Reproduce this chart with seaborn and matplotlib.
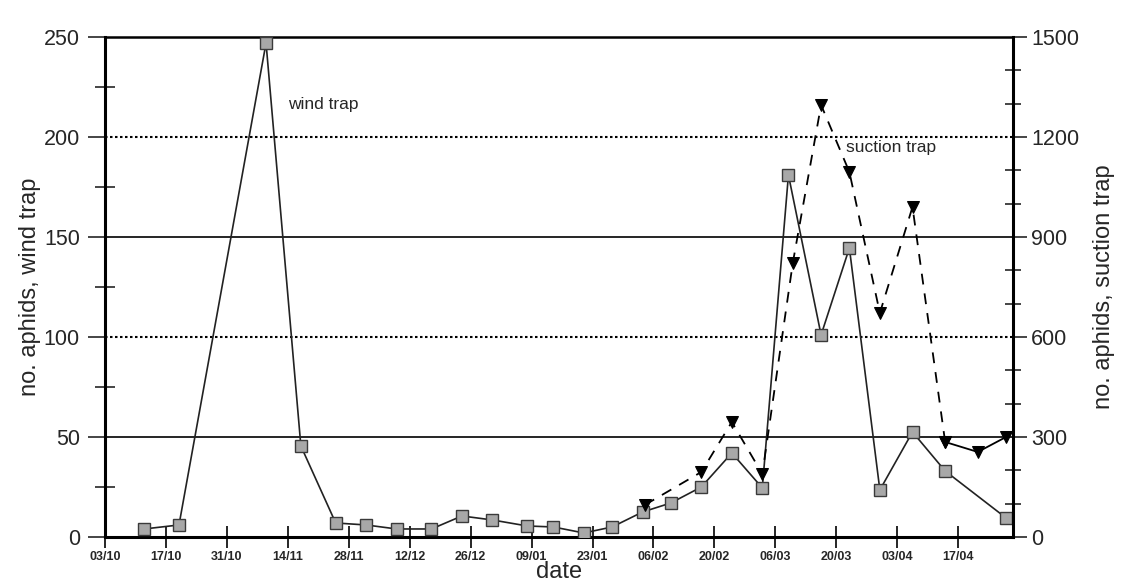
import matplotlib
matplotlib.use("Agg")
import matplotlib.pyplot as plt
import seaborn as sns
import pandas as pd

# ---- data (days counted from 03/10) ----
tick_days = [0, 14, 28, 42, 56, 70, 84, 98, 112, 126, 140, 154, 168, 182, 196]
tick_labels = ['03/10', '17/10', '31/10', '14/11', '28/11', '12/12', '26/12', '09/01',
               '23/01', '06/02', '20/02', '06/03', '20/03', '03/04', '17/04']

wind_days = [9, 17, 37, 45, 53, 60, 67, 75, 82, 89, 97, 103, 110, 116.5, 123.5, 130,
             137, 144, 151, 157, 164.5, 171, 178, 185.5, 193, 207]
wind_counts = [4, 6, 247, 45.5, 7, 6, 4, 4, 10.5, 8.5, 5.5, 5, 2, 5, 12.5, 17,
               25, 42, 24.5, 181, 101, 144.5, 23.5, 52.5, 33, 9.5]

suction_days = [124, 137, 144, 151, 158, 164.5, 171, 178, 185.5, 193, 200.5, 207]
suction_counts = [96, 195, 345, 189, 822, 1296, 1095, 672, 990, 285, 255, 300]

left_ticks = [0, 50, 100, 150, 200, 250]
left_minor = [25, 75, 125, 175, 225]
right_ticks = [0, 300, 600, 900, 1200, 1500]
right_minor = [100, 200, 400, 500, 700, 800, 1000, 1100, 1300, 1400]

sns.set_style("white")
plt.rcParams['font.family'] = ['Liberation Sans', 'DejaVu Sans']

fig = plt.figure(figsize=(11.24, 5.85), dpi=100)
ax = fig.add_axes([0.0934, 0.0821, 0.8079, 0.8547])
ax2 = ax.twinx()

wind = pd.DataFrame({'day': wind_days, 'count': wind_counts})
suction = pd.DataFrame({'day': suction_days, 'count': suction_counts})

sns.lineplot(data=wind, x='day', y='count', ax=ax, color='#222222', lw=1.2,
             marker='s', markersize=8, markerfacecolor='#a8a8a8',
             markeredgecolor='#3a3a3a', markeredgewidth=1.0, errorbar=None, zorder=5)

sns.lineplot(data=suction.iloc[:10], x='day', y='count', ax=ax2, color='black', lw=1.3,
             linestyle=(0, (6, 5)), marker='v', markersize=9, markerfacecolor='black',
             markeredgecolor='black', errorbar=None, zorder=5)
sns.lineplot(data=suction.iloc[9:], x='day', y='count', ax=ax2, color='black', lw=1.3,
             linestyle='-', marker='v', markersize=9, markerfacecolor='black',
             markeredgecolor='black', errorbar=None, zorder=5)

# limits
ax.set_xlim(0, 208.6)
ax.set_ylim(0, 250)
ax2.set_ylim(0, 1500)

# left axis ticks & grid
ax.set_yticks(left_ticks)
ax.set_yticks(left_minor, minor=True)
ax.tick_params(axis='y', which='major', direction='out', length=12, width=1.2,
               pad=6, labelsize=15.5, left=True)
ax.tick_params(axis='y', which='minor', direction='inout', length=14, width=1.2, left=True)
ax.grid(axis='y', which='major', color='black', lw=1.2)
for gl, t in zip(ax.yaxis.get_gridlines(), ax.get_yticks()):
    if t in (100, 200):
        gl.set_linestyle((0, (1.2, 1.2)))
        gl.set_linewidth(1.5)
ax.set_axisbelow(True)

# x axis
ax.set_xticks(tick_days)
ax.set_xticklabels(tick_labels, fontsize=9, fontweight='bold')
ax.tick_params(axis='x', direction='inout', length=16, width=1.4, pad=2, bottom=True)

# right axis
ax2.set_yticks(right_ticks)
ax2.set_yticks(right_minor, minor=True)
ax2.tick_params(axis='y', which='major', direction='out', length=10, width=1.2,
                pad=3, labelsize=15.5, right=True)
ax2.tick_params(axis='y', which='minor', direction='inout', length=12, width=1.2, right=True)

# spines
for s in ['left', 'bottom']:
    ax.spines[s].set_linewidth(2.2)
    ax.spines[s].set_color('black')
ax.spines['top'].set_linewidth(1.8)
ax.spines['top'].set_color('black')
ax.spines['right'].set_visible(False)
ax2.spines['right'].set_linewidth(2.2)
ax2.spines['right'].set_color('black')
for s in ['left', 'bottom', 'top']:
    ax2.spines[s].set_visible(False)

# labels
ax.set_ylabel('no. aphids, wind trap', fontsize=17, labelpad=2)
ax2.set_ylabel('no. aphids, suction trap', fontsize=17, labelpad=10)
ax.set_xlabel('date', fontsize=17, labelpad=-1)

ax.text(42, 216, 'wind trap', fontsize=12.5, ha='left', va='center')
ax2.text(170.3, 1167, 'suction trap', fontsize=12.5, ha='left', va='center')

fig.savefig('out.png', dpi=100)
